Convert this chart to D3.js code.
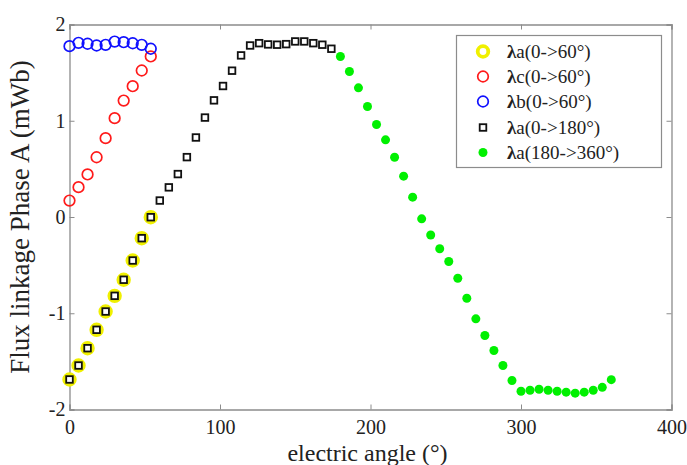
<!DOCTYPE html>
<html>
<head>
<meta charset="utf-8">
<script src="https://cdn.jsdelivr.net/npm/d3@7/dist/d3.min.js"></script>
<style>
  html, body { margin: 0; padding: 0; background: #fff; }
  svg { display: block; }
  text { font-family: "Liberation Serif", "DejaVu Serif", serif; fill: #222; }
</style>
</head>
<body>
<svg id="chart" width="687" height="465"></svg>
<script>
// ---- data ----
const angle60 = [0, 6, 12, 18, 24, 30, 36, 42, 48, 54];
const fluxA60 = [-1.688, -1.543, -1.363, -1.172, -0.982, -0.819, -0.652, -0.452, -0.220, -0.002];
const fluxC60 = [0.171, 0.310, 0.442, 0.621, 0.819, 1.027, 1.210, 1.359, 1.522, 1.668];
const fluxB60 = [1.775, 1.810, 1.800, 1.782, 1.789, 1.823, 1.816, 1.805, 1.789, 1.748];

const angle180 = [0, 6, 12, 18, 24, 30, 36, 42, 48, 54, 60, 66, 72, 78, 84, 90, 96, 102, 108, 114,
                  120, 126, 132, 138, 144, 150, 156, 162, 168, 174];
const fluxA180 = [-1.688, -1.543, -1.363, -1.172, -0.982, -0.819, -0.652, -0.452, -0.220, -0.002,
                  0.171, 0.308, 0.446, 0.622, 0.826, 1.033, 1.212, 1.361, 1.520, 1.679,
                  1.782, 1.806, 1.793, 1.790, 1.796, 1.824, 1.824, 1.806, 1.790, 1.748];

const angle360 = [180, 186, 192, 198, 204, 210, 216, 222, 228, 234, 240, 246, 252, 258, 264, 270,
                  276, 282, 288, 294, 300, 306, 312, 318, 324, 330, 336, 342, 348, 354, 360];
const fluxA360 = [1.668, 1.512, 1.342, 1.148, 0.961, 0.802, 0.621, 0.424, 0.206, -0.019,
                  -0.187, -0.330, -0.462, -0.636, -0.844, -1.058, -1.231, -1.387, -1.543, -1.699,
                  -1.810, -1.800, -1.790, -1.800, -1.810, -1.820, -1.830, -1.820, -1.800, -1.770, -1.690];

const xTicks = [0, 100, 200, 300, 400];
const yTicks = [-2, -1, 0, 1, 2];
const legendLabels = ["a(0->60°)", "c(0->60°)", "b(0->60°)", "a(0->180°)", "a(180->360°)"];

// ---- layout ----
const svg = d3.select("#chart");
const L = 69.5, R = 671.5, T = 24.5, B = 409.5;
const x = d3.scaleLinear().domain([0, 400]).range([L, R]);
const y = d3.scaleLinear().domain([-2, 2]).range([B, T]);
const frameColor = "#8c8c8c";

// axes (ticks inside)
const gx = svg.append("g").attr("transform", `translate(0,${B})`)
  .call(d3.axisBottom(x).tickValues(xTicks).tickSize(-5).tickPadding(10).tickFormat(d3.format("d")));
const gxTop = svg.append("g").attr("transform", `translate(0,${T})`)
  .call(d3.axisTop(x).tickValues(xTicks).tickSize(-5).tickFormat(""));
const gy = svg.append("g").attr("transform", `translate(${L},0)`)
  .call(d3.axisLeft(y).tickValues(yTicks).tickSize(-5).tickPadding(4).tickFormat(d => d < 0 ? "-" + Math.abs(d) : d));
const gyR = svg.append("g").attr("transform", `translate(${R},0)`)
  .call(d3.axisRight(y).tickValues(yTicks).tickSize(-5).tickFormat(""));
[gx, gxTop, gy, gyR].forEach(g => {
  g.select(".domain").attr("stroke", frameColor).attr("stroke-width", 1.3);
  g.selectAll(".tick line").attr("stroke", frameColor);
  g.selectAll("text").style("font-family", "Liberation Serif").attr("font-size", 20).attr("fill", "#222");
});
gx.selectAll("text").attr("dy", "0.71em");

// axis labels
svg.append("text").attr("x", (L + R) / 2 - 3).attr("y", 461).attr("text-anchor", "middle")
  .attr("font-size", 24).text("electric angle (°)");
svg.append("text").attr("transform", `translate(29,${(T + B) / 2}) rotate(-90)`)
  .attr("text-anchor", "middle").attr("font-size", 27).text("Flux linkage Phase A (mWb)");

// ---- marks ----
const pts = (xs, ys) => xs.map((a, i) => [a, ys[i]]);

svg.append("g").selectAll("circle").data(pts(angle60, fluxA60)).join("circle")
  .attr("cx", d => x(d[0])).attr("cy", d => y(d[1])).attr("r", 5.3)
  .attr("fill", "none").attr("stroke", "#f0f000").attr("stroke-width", 3.8);

svg.append("g").selectAll("circle").data(pts(angle60, fluxC60)).join("circle")
  .attr("cx", d => x(d[0])).attr("cy", d => y(d[1])).attr("r", 5.3)
  .attr("fill", "none").attr("stroke", "#ff1a1a").attr("stroke-width", 1.7);

svg.append("g").selectAll("circle").data(pts(angle60, fluxB60)).join("circle")
  .attr("cx", d => x(d[0])).attr("cy", d => y(d[1])).attr("r", 5.3)
  .attr("fill", "none").attr("stroke", "#1010ff").attr("stroke-width", 1.7);

svg.append("g").selectAll("rect").data(pts(angle180, fluxA180)).join("rect")
  .attr("x", d => x(d[0]) - 3.3).attr("y", d => y(d[1]) - 3.3).attr("width", 6.6).attr("height", 6.6)
  .attr("fill", "#fff").attr("stroke", "#111").attr("stroke-width", 1.8);

svg.append("g").selectAll("circle").data(pts(angle360, fluxA360)).join("circle")
  .attr("cx", d => x(d[0])).attr("cy", d => y(d[1])).attr("r", 4.5)
  .attr("fill", "#00f000");

// ---- legend ----
const lg = svg.append("g");
lg.append("rect").attr("x", 456.5).attr("y", 35.5).attr("width", 205).attr("height", 132)
  .attr("fill", "#fff").attr("stroke", frameColor).attr("stroke-width", 1.2);
const rowY = [51.5, 76.5, 101.5, 127.5, 152.5];
const mx = 483;
legendLabels.forEach((lab, i) => {
  const cy = rowY[i];
  if (i === 0) lg.append("circle").attr("cx", mx).attr("cy", cy).attr("r", 5.3).attr("fill", "none").attr("stroke", "#f0f000").attr("stroke-width", 3.8);
  if (i === 1) lg.append("circle").attr("cx", mx).attr("cy", cy).attr("r", 5.3).attr("fill", "none").attr("stroke", "#ff1a1a").attr("stroke-width", 1.7);
  if (i === 2) lg.append("circle").attr("cx", mx).attr("cy", cy).attr("r", 5.3).attr("fill", "none").attr("stroke", "#1010ff").attr("stroke-width", 1.7);
  if (i === 3) lg.append("rect").attr("x", mx - 3.3).attr("y", cy - 3.3).attr("width", 6.6).attr("height", 6.6).attr("fill", "#fff").attr("stroke", "#111").attr("stroke-width", 1.8);
  if (i === 4) lg.append("circle").attr("cx", mx).attr("cy", cy).attr("r", 4.5).attr("fill", "#00f000");
  const t = lg.append("text").attr("x", 507).attr("y", cy).attr("dy", "0.35em").attr("font-size", 19);
  t.append("tspan").attr("font-weight", "bold").text("λ");
  t.append("tspan").text(lab);
});
</script>
</body>
</html>
